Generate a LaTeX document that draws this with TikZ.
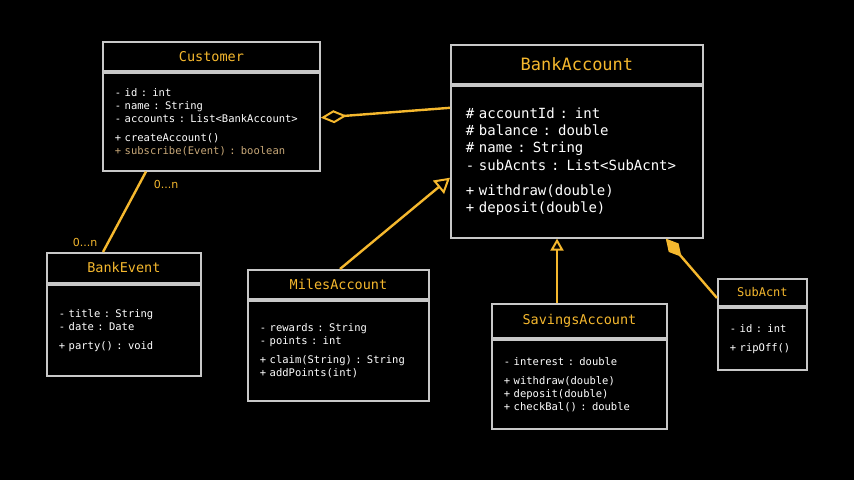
\documentclass[tikz,border=0pt]{standalone}
\usepackage{fontspec}
\setmainfont{DejaVu Sans}
\setmonofont{DejaVu Sans Mono}[WordSpace={1,0,0}]
\usetikzlibrary{positioning, arrows.meta}
\definecolor{umlorange}{HTML}{F5B82E}
\definecolor{boxgray}{HTML}{C8C8C8}
\definecolor{tan}{HTML}{C8A878}
\tikzset{
  head/.style={draw=boxgray, line width=1.8pt, fill=black, inner sep=0pt,
    minimum width=#1, text=umlorange, font=\ttfamily\fontsize{13.5}{15}\selectfont},
  body/.style={draw=boxgray, line width=1.8pt, fill=black, inner xsep=12pt, inner ysep=0pt,
    text width=#1-24, align=left, text=white, font=\ttfamily\fontsize{10.5}{13}\selectfont},
  link/.style={draw=umlorange, line width=2.4pt},
  mult/.style={text=umlorange, font=\fontsize{11}{12}\selectfont, inner sep=0pt}
}
\begin{document}
\begin{tikzpicture}[x=1pt, y=-1pt]
        \fill[black] (0,0) rectangle (854,480);
        \useasboundingbox (0,0) rectangle (854,480);
        % Customer
        \node[head=217, minimum height=29, anchor=north west] (cust) at (102,41) {Customer};
        \node[body=217, minimum height=98, below=0pt of cust] (custb) {- id : int\\- name : String\\- accounts : List<BankAccount>\\[6pt]+ createAccount()\\\textcolor{tan}{+ subscribe(Event) : boolean}};
        % BankAccount
        \node[head=252, minimum height=39, anchor=north west, font=\ttfamily\fontsize{17}{19}\selectfont] (bank) at (450,44) {BankAccount};
        \node[body=252, minimum height=152, below=0pt of bank, inner xsep=15pt, text width=222, font=\ttfamily\fontsize{14}{17.2}\selectfont] (bankb) {\# accountId : int\\\# balance : double\\\# name : String\\- subAcnts : List<SubAcnt>\\[8pt]+ withdraw(double)\\+ deposit(double)};
        % BankEvent
        \node[head=154, minimum height=30, anchor=north west] (event) at (46,252) {BankEvent};
        \node[body=154, minimum height=91, below=0pt of event] (eventb) {- title : String\\- date : Date\\[6pt]+ party() : void};
        % MilesAccount
        \node[head=181, minimum height=29, anchor=north west] (miles) at (247,269) {MilesAccount};
        \node[body=181, minimum height=100, below=0pt of miles] (milesb) {- rewards : String\\- points : int\\[6pt]+ claim(String) : String\\+ addPoints(int)};
        % SavingsAccount
        \node[head=175, minimum height=34, anchor=north west] (sav) at (491,303) {SavingsAccount};
        \node[body=175, minimum height=89, below=0pt of sav] (savb) {- interest : double\\[6pt]+ withdraw(double)\\+ deposit(double)\\+ checkBal() : double};
        % SubAcnt
        \node[head=89, minimum height=27, anchor=north west, font=\ttfamily\fontsize{12}{13}\selectfont] (sub) at (717,278) {SubAcnt};
        \node[body=89, minimum height=62, below=0pt of sub] (subb) {- id : int\\[6pt]+ ripOff()};
        % relations
        \draw[link] ([xshift=44pt]custb.south west) -- ([xshift=57pt]event.north west);
        \node[mult] (m1) at (166,184) {0...n};
        \node[mult] (m2) at (85,242) {0...n};
        \draw[link, {Diamond[open, length=26pt, width=13pt, line width=2pt]}-] ([yshift=4pt]custb.east) -- ([yshift=-23pt]bankb.north west);
        \draw[link, -{Triangle[open, length=15pt, width=17pt, line width=2pt]}] ([xshift=93pt]miles.north west) -- ([yshift=-16pt]bankb.west);
        \draw[link, -{Triangle[open, length=12pt, width=13pt, line width=2pt]}] ([xshift=66pt]sav.north west) -- ([xshift=107pt]bankb.south west);
        \draw[link, {Diamond[length=24pt, width=13pt]}-] ([xshift=-38pt]bankb.south east) -- ([yshift=-20pt]sub.north west);
    \end{tikzpicture}
\end{document}
